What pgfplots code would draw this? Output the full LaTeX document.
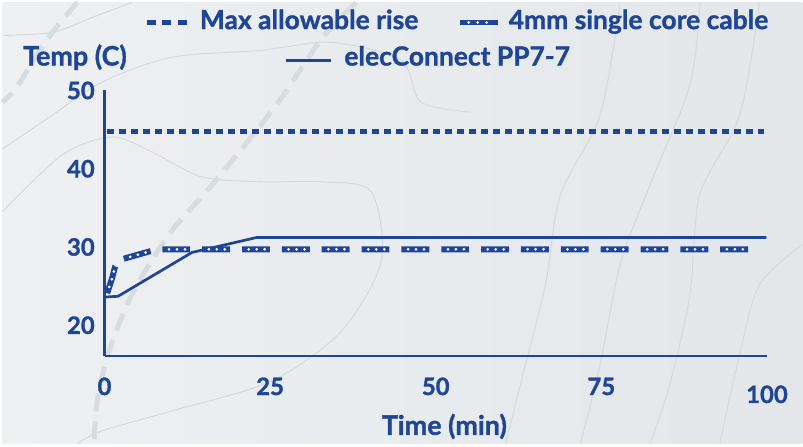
\documentclass[border=0pt]{standalone}
\usepackage{pgfplots}
\pgfplotsset{compat=1.18}
\usepackage{fontspec}
\setmainfont{Lato}[BoldFeatures={FakeBold=1.2}]

\definecolor{navy}{HTML}{1F4597}
\definecolor{bgA}{HTML}{EEF0F2}
\definecolor{bgB}{HTML}{E3E7EA}
\definecolor{topo}{HTML}{D6DDE0}
\definecolor{topothin}{HTML}{D4DBDE}

% elecConnect PP7-7
\pgfplotstableread{
x     y
0     23.6
2.05  23.7
13.2  29.3
22.9  31.2
99.9  31.2
}\elec

% 4mm single core cable
\pgfplotstableread{
x     y
0.4   24.1
1.15  26.0
1.6   27.5
2.5   28.4
4.15  28.8
7.9   29.7
98.9  29.7
}\cable

% max allowable rise
\pgfplotstableread{
x     y
0.4   44.8
99.5  44.8
}\maxrise

\tikzset{
  maxline/.style={navy, line width=5pt, dash pattern=on 7pt off 5.1pt},
  cableA/.style={navy, line width=6pt, line join=round, dash pattern=on 28pt off 12pt},
  cableB/.style={white, line width=3pt, line cap=round, line join=round,
    dash pattern=on 0pt off 8pt on 0pt off 8pt on 0pt off 24pt, dash phase=33.3pt},
  elecline/.style={navy, line width=2.7pt},
}

\newcommand\legfont{\fontsize{26.5}{30}\selectfont\bfseries}
\newcommand\labfont{\fontsize{27}{29}\selectfont\bfseries}
\newcommand\tickfont{\fontsize{24}{26}\selectfont\bfseries}

\begin{document}
\begin{tikzpicture}[x=1pt, y=1pt]
  % background with faint map lines
  \shade[left color=bgA, right color=bgB] (0,0) rectangle (803,443);
  \begin{scope}[topothin, line width=1.1pt]
    \draw plot[smooth] coordinates {(0,410) (50,413) (90,428) (130,443)};
    \draw plot[smooth] coordinates {(0,296) (40,323) (100,363) (170,388) (260,395) (330,403) (400,385) (420,343) (470,333)};
    \draw plot[smooth] coordinates {(0,233) (60,290) (110,308) (150,293) (200,268) (260,263) (320,263) (370,253) (380,183) (340,113) (270,63) (170,33) (100,13) (75,0)};
    \draw plot[smooth] coordinates {(620,443) (600,330) (560,250) (545,160) (520,60) (505,0)};
    \draw plot[smooth] coordinates {(700,443) (690,360) (650,260) (620,180) (600,80) (580,0)};
    \draw plot[smooth] coordinates {(760,443) (740,330) (700,250) (690,150) (670,60) (650,0)};
    \draw plot[smooth] coordinates {(803,200) (760,160) (740,90) (720,0)};
  \end{scope}
  \begin{scope}[topo, line width=5pt, dash pattern=on 18pt off 10pt]
    \draw plot[smooth] coordinates {(355,443) (320,406) (277,343) (240,296) (207,256) (167,210) (130,150) (107,93) (95,43) (92,0)};
    \draw plot[smooth] coordinates {(75,443) (50,413) (30,383) (13,356) (0,343)};
  \end{scope}

  \begin{axis}[
    at={(102.4pt,88pt)}, anchor=south west,
    scale only axis, width=665pt, height=266.7pt,
    xmin=0, xmax=100, ymin=16.05, ymax=50,
    axis lines=left,
    axis line style={-, navy, line width=2.7pt},
    major tick length=0pt,
    clip=false,
    xtick={0,25,50,75,100},
    xticklabels={0,25,50,75,\raisebox{-8pt}{100}},
    ytick={20,30,40,50},
    /pgf/number format/assume math mode=true,
    tick label style={font=\tickfont, text=navy},
    xticklabel style={anchor=base, inner sep=0pt, yshift=-39pt},
    yticklabel style={anchor=east, inner sep=0pt, xshift=-9.6pt},
    xlabel={Time (min)},
    ylabel={Temp (C)},
    every axis x label/.style={at={(axis description cs:0.513,-0.2962)}, anchor=base,
      inner sep=0pt, font=\labfont, text=navy},
    every axis y label/.style={at={(axis description cs:-0.1231,1.0937)}, anchor=base west,
      inner sep=0pt, font=\labfont, text=navy},
  ]
    \addplot[maxline] table[x=x, y=y] {\maxrise};
    \addplot[elecline] table[x=x, y=y] {\elec};
    \addplot[cableA] table[x=x, y=y] {\cable};
    \addplot[cableB] table[x=x, y=y] {\cable};
  \end{axis}

  % legend
  \draw[navy, line width=5pt, dash pattern=on 9pt off 6.5pt] (145,423) -- (185,423);
  \node[anchor=base west, inner sep=0pt, font=\legfont, text=navy] at (198,416.3) {Max allowable rise};
  \draw[navy, line width=5pt] (459,423) -- (497,423);
  \draw[white, line width=3pt, line cap=round, dash pattern=on 0pt off 9pt] (468,423) -- (486.1,423);
  \node[anchor=base west, inner sep=0pt, font=\legfont, text=navy] at (508,416.3) {4mm single core cable};
  \draw[elecline] (285,385) -- (330,385);
  \node[anchor=base west, inner sep=0pt, font=\legfont, text=navy] at (343,379.7) {elecConnect PP7-7};
\end{tikzpicture}
\end{document}
